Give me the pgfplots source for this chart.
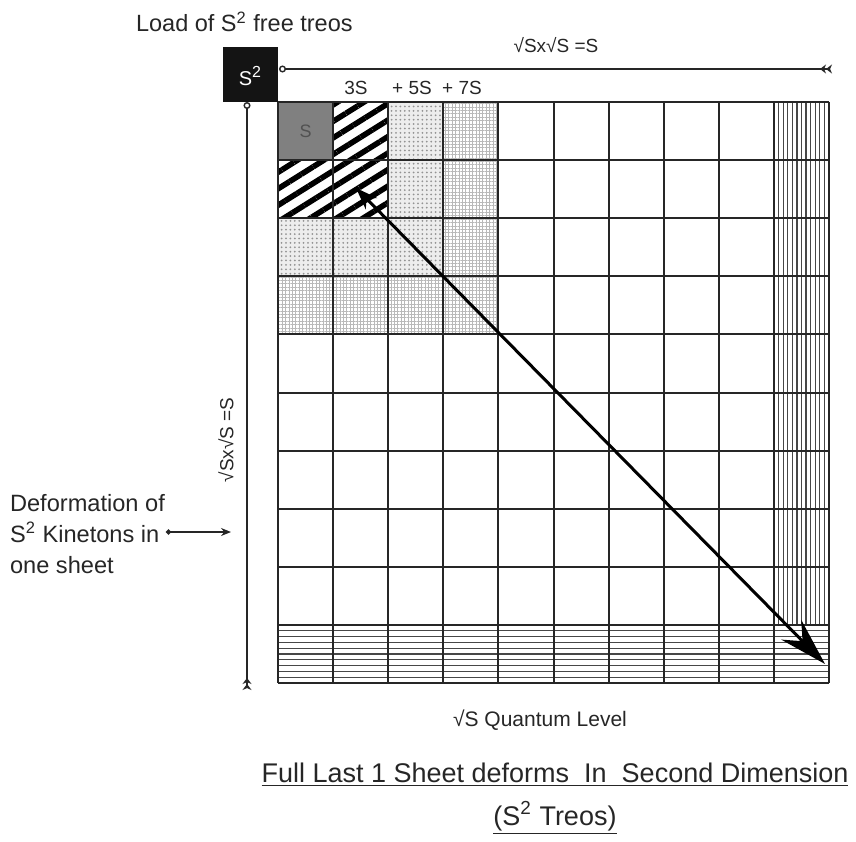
\documentclass[border=0pt]{standalone}
\usepackage{pgfplots}
\pgfplotsset{compat=1.18}
\usepackage{fontspec}
\setmainfont{Liberation Sans}
\usetikzlibrary{arrows.meta,patterns,patterns.meta}
\definecolor{ink}{HTML}{262626}
\definecolor{cellgray}{HTML}{808080}

\begin{document}
\begin{tikzpicture}
\begin{axis}[
    width=428pt, height=419.5pt, scale only axis,
    xmin=0, xmax=856, ymin=0, ymax=839, y dir=reverse,
    hide axis, clip=false, unbounded coords=jump,
]
% keep the page the size of the axis
\path (rel axis cs:0,0) rectangle (rel axis cs:1,1);

% filled cells: S, 3S, 5S, 7S
\addplot[draw=none, fill=cellgray] coordinates {(278,102) (333.1,102) (333.1,160.1) (278,160.1)} -- cycle;
\addplot[draw=none, pattern={Lines[angle=32,distance=7pt,line width=2.8pt]}, pattern color=black]
    coordinates {(333.1,102) (388.2,102) (388.2,218.2) (278,218.2) (278,160.1) (333.1,160.1)} -- cycle;
\addplot[draw=none, fill=gray!14] coordinates {(388.2,102) (443.3,102) (443.3,276.3) (278,276.3) (278,218.2) (388.2,218.2)} -- cycle;
\addplot[draw=none, pattern={Dots[distance=2.2pt,radius=0.5pt]}, pattern color=gray!85]
    coordinates {(388.2,102) (443.3,102) (443.3,276.3) (278,276.3) (278,218.2) (388.2,218.2)} -- cycle;
\addplot[draw=none, pattern={Hatch[angle=0,distance=1.7pt,line width=0.35pt]}, pattern color=gray!55]
    coordinates {(443.3,102) (498.4,102) (498.4,334.4) (278,334.4) (278,276.3) (443.3,276.3)} -- cycle;

% fine lines of the last column and last row
\addplot[ink!85, line width=0.6pt] coordinates {
    (778.5,102) (778.5,624.9) (nan,nan) (783.1,102) (783.1,624.9) (nan,nan)
    (787.7,102) (787.7,624.9) (nan,nan) (792.3,102) (792.3,624.9) (nan,nan)
    (796.9,102) (796.9,624.9) (nan,nan) (801.5,102) (801.5,624.9) (nan,nan)
    (806.0,102) (806.0,624.9) (nan,nan) (810.6,102) (810.6,624.9) (nan,nan)
    (815.2,102) (815.2,624.9) (nan,nan) (819.8,102) (819.8,624.9) (nan,nan)
    (824.4,102) (824.4,624.9)};
\addplot[ink!85, line width=0.6pt] coordinates {
    (278,630.7) (829,630.7) (nan,nan) (278,636.5) (829,636.5) (nan,nan)
    (278,642.3) (829,642.3) (nan,nan) (278,648.1) (829,648.1) (nan,nan)
    (278,654.0) (829,654.0) (nan,nan) (278,659.8) (829,659.8) (nan,nan)
    (278,665.6) (829,665.6) (nan,nan) (278,671.4) (829,671.4) (nan,nan)
    (278,677.2) (829,677.2)};

% main grid
\addplot[ink, line width=1pt] coordinates {
    (278,102) (278,683) (nan,nan) (333.1,102) (333.1,683) (nan,nan)
    (388.2,102) (388.2,683) (nan,nan) (443.3,102) (443.3,683) (nan,nan)
    (498.4,102) (498.4,683) (nan,nan) (553.5,102) (553.5,683) (nan,nan)
    (608.6,102) (608.6,683) (nan,nan) (663.7,102) (663.7,683) (nan,nan)
    (718.8,102) (718.8,683) (nan,nan) (773.9,102) (773.9,683) (nan,nan)
    (829,102) (829,683)};
\addplot[ink, line width=1pt] coordinates {
    (278,102) (829,102) (nan,nan) (278,160.1) (829,160.1) (nan,nan)
    (278,218.2) (829,218.2) (nan,nan) (278,276.3) (829,276.3) (nan,nan)
    (278,334.4) (829,334.4) (nan,nan) (278,392.5) (829,392.5) (nan,nan)
    (278,450.6) (829,450.6) (nan,nan) (278,508.7) (829,508.7) (nan,nan)
    (278,566.8) (829,566.8) (nan,nan) (278,624.9) (829,624.9) (nan,nan)
    (278,683) (829,683)};

% S^2 box
\addplot[draw=none, fill=black!92] coordinates {(223,47) (278,47) (278,102) (223,102)} -- cycle;
\node[text=white, font=\fontsize{10}{12}\selectfont] at (axis cs:250.5,76) {S\textsuperscript{\fontsize{8}{9}\selectfont 2}};
\node[text=ink!80, font=\fontsize{9}{11}\selectfont] at (axis cs:305.5,131) {S};

% dimension lines
\addplot[ink, line width=0.7pt, {Circle[open,fill=white,length=3.5pt]}-{Stealth[reversed,length=3pt,width=4.5pt]Stealth[reversed,length=3pt,width=4.5pt]}]
    coordinates {(279,69) (832,69)};
\addplot[ink, line width=0.7pt, {Circle[open,fill=white,length=3.5pt]}-{Stealth[reversed,length=3pt,width=4.5pt]Stealth[reversed,length=3pt,width=4.5pt]}]
    coordinates {(247,102) (247,690)};

% diagonal arrow
\addplot[black, line width=1.5pt, {Stealth[length=11pt,width=8pt]}-{Stealth[length=24pt,width=14pt,inset=8pt]}]
    coordinates {(356,188) (825,664)};

% pointer from the left label
\addplot[ink, line width=0.7pt, {Circle[length=2.5pt]}-{Stealth[length=5pt,width=4pt]}]
    coordinates {(166,532) (231,532)};

% text
\node[text=ink, anchor=west, font=\fontsize{11.75}{14}\selectfont] at (axis cs:129,22) {Load of S\textsuperscript{2} free treos};
\node[text=ink, font=\fontsize{9.5}{11}\selectfont] at (axis cs:556,45) {√Sx√S =S};
\node[text=ink, font=\fontsize{9.5}{11}\selectfont] at (axis cs:356,88) {3S};
\node[text=ink, font=\fontsize{9.5}{11}\selectfont] at (axis cs:412,88) {+ 5S};
\node[text=ink, font=\fontsize{9.5}{11}\selectfont] at (axis cs:462,88) {+ 7S};
\node[text=ink, rotate=90, font=\fontsize{9.5}{11}\selectfont] at (axis cs:226,440) {√Sx√S =S};
\node[text=ink, anchor=west, align=left, font=\fontsize{11.8}{15.5}\selectfont] at (axis cs:3,534)
    {Deformation of\\S\textsuperscript{2} Kinetons in\\one sheet};
\node[text=ink, font=\fontsize{10.5}{12}\selectfont] at (axis cs:540,720) {√S Quantum Level};
\node[text=ink, font=\fontsize{13.5}{16}\selectfont] at (axis cs:555,775)
    {\underline{Full Last 1 Sheet deforms\ \ In\ \ Second Dimension}};
\node[text=ink, font=\fontsize{13.5}{16}\selectfont] at (axis cs:555,818)
    {\underline{(S\textsuperscript{2} Treos)}};
\end{axis}
\end{tikzpicture}
\end{document}
